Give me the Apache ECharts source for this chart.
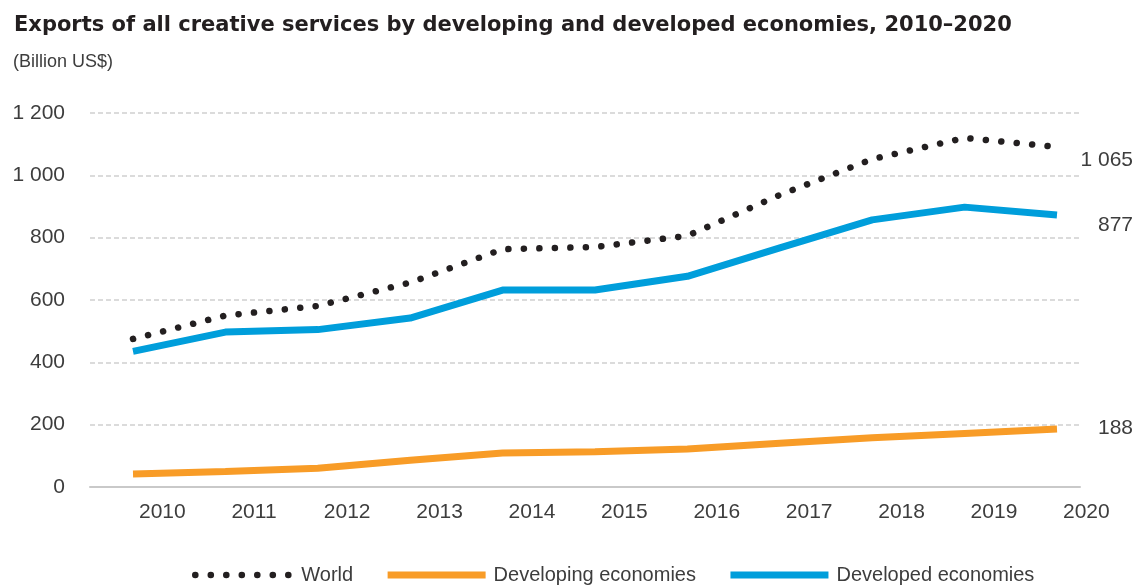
<!DOCTYPE html>
<html>
<head>
<meta charset="utf-8">
<script src="https://cdn.jsdelivr.net/npm/echarts@6/dist/echarts.min.js"></script>
<style>
html,body{margin:0;padding:0;background:#fff;}
#main{width:1137px;height:585px;}
</style>
</head>
<body>
<div id="main"></div>
<script>
const years = ['2010','2011','2012','2013','2014','2015','2016','2017','2018','2019','2020'];
const worldValues = [475, 550, 581, 656, 763, 770, 806, 937, 1052, 1120, 1091];
const developingValues = [42, 50, 60, 86, 109, 113, 122, 140, 158, 172, 186];
const developedValues = [435, 497, 505, 542, 632, 632, 676, 767, 857, 898, 873];
const endLabels = { world: '1 065', developing: '188', developed: '877' };

const SANS = "'Liberation Sans', Arial, sans-serif";
const TXT = '#3d3d3d';
const C_WORLD = '#231f20', C_DEV = '#f89c27', C_DVD = '#009edb';
const WORLD_DASH = {color: C_WORLD, width: 6.5, type: [0.1, 15.4], cap: 'round', join: 'round'};

const chart = echarts.init(document.getElementById('main'), null, {renderer: 'canvas'});

function fmtNum(v){ return String(v).replace(/\B(?=(\d{3})+(?!\d))/g, ' '); }

chart.setOption({
  animation: false,
  backgroundColor: '#fff',
  title: [
    {
      text: 'Exports of all creative services by developing and developed economies, 2010–2020',
      left: 9, top: 10,
      textStyle: {fontFamily: "'DejaVu Sans', sans-serif", fontWeight: 'bold', fontSize: 21, color: '#231f20'}
    },
    {
      text: '(Billion US$)',
      left: 8, top: 48,
      textStyle: {fontFamily: SANS, fontWeight: 'normal', fontSize: 18, color: TXT}
    }
  ],
  legend: {
    bottom: -5, left: 187,
    itemWidth: 98, itemHeight: 7, itemGap: 31,
    textStyle: {fontFamily: SANS, fontSize: 20, color: TXT, padding: [0,0,0,3]},
    data: [
      {name: 'World', lineStyle: WORLD_DASH, itemStyle: {opacity: 0}},
      {name: 'Developing economies', lineStyle: {color: C_DEV, width: 7, cap: 'butt'}, itemStyle: {opacity: 0}},
      {name: 'Developed economies', lineStyle: {color: C_DVD, width: 7, cap: 'butt'}, itemStyle: {opacity: 0}}
    ]
  },
  grid: [
    {left: 90, right: 57, top: 113, bottom: 98},
    {left: 133, right: 80, top: 113, bottom: 98}
  ],
  xAxis: [
    {
      gridIndex: 0, type: 'category', data: years, boundaryGap: false,
      axisLine: {show: true, lineStyle: {color: '#c9c9c9', width: 2}},
      axisTick: {show: false}, axisLabel: {show: false}, splitLine: {show: false}
    },
    {
      gridIndex: 1, type: 'category', data: years, boundaryGap: false,
      axisLine: {show: false}, axisTick: {show: false}, splitLine: {show: false},
      axisLabel: {show: true, align: 'left', margin: 15, padding: [0,0,0,6],
        fontFamily: SANS, fontSize: 21, color: TXT}
    }
  ],
  yAxis: [
    {
      gridIndex: 0, type: 'value', min: 0, max: 1200, interval: 200,
      axisLine: {show: false}, axisTick: {show: false},
      axisLabel: {margin: 25, fontFamily: SANS, fontSize: 21, color: TXT, formatter: v => fmtNum(v)},
      splitLine: {show: true, lineStyle: {color: '#cfcfcf', type: [5, 3], width: 1.5}}
    },
    {
      gridIndex: 1, type: 'value', min: 0, max: 1200, interval: 200,
      axisLine: {show: false}, axisTick: {show: false}, axisLabel: {show: false}, splitLine: {show: false}
    }
  ],
  series: [
    {
      name: 'World', type: 'line', xAxisIndex: 1, yAxisIndex: 1,
      data: worldValues, symbol: 'none', z: 3,
      lineStyle: WORLD_DASH,
      itemStyle: {color: C_WORLD},
      endLabel: {show: true, formatter: () => endLabels.world, align: 'right', distance: 0, offset: [76, 13],
        fontFamily: SANS, fontSize: 21, color: TXT}
    },
    {
      name: 'Developing economies', type: 'line', xAxisIndex: 1, yAxisIndex: 1,
      data: developingValues, symbol: 'none', z: 2,
      lineStyle: {color: C_DEV, width: 7, cap: 'butt'},
      itemStyle: {color: C_DEV},
      endLabel: {show: true, formatter: () => endLabels.developing, align: 'right', distance: 0, offset: [76, -1],
        fontFamily: SANS, fontSize: 21, color: TXT}
    },
    {
      name: 'Developed economies', type: 'line', xAxisIndex: 1, yAxisIndex: 1,
      data: developedValues, symbol: 'none', z: 2,
      lineStyle: {color: C_DVD, width: 7, cap: 'butt'},
      itemStyle: {color: C_DVD},
      endLabel: {show: true, formatter: () => endLabels.developed, align: 'right', distance: 0, offset: [76, 10],
        fontFamily: SANS, fontSize: 21, color: TXT}
    }
  ]
});
</script>
</body>
</html>
